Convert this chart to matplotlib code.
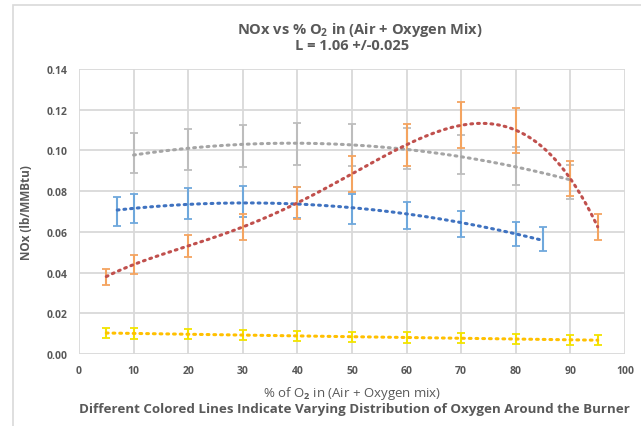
import numpy as np
import matplotlib.pyplot as plt
from matplotlib.patches import Rectangle

# blue series
blue_x = [7, 10, 20, 30, 40, 50, 60, 70, 80, 85]
blue_y = [0.070, 0.0715, 0.074, 0.075, 0.0745, 0.0712, 0.068, 0.064, 0.059, 0.0565]
blue_err = [0.007, 0.007, 0.0075, 0.0075, 0.0075, 0.0073, 0.0068, 0.0064, 0.0059, 0.0059]

# gray series
gray_x = [10, 20, 30, 40, 50, 60, 70, 80, 90]
gray_y = [0.0988, 0.1005, 0.102, 0.103, 0.1027, 0.101, 0.098, 0.0924, 0.0845]
gray_err = [0.0099, 0.0101, 0.0103, 0.0103, 0.0103, 0.0101, 0.0098, 0.0093, 0.0084]

# orange series (red trendline)
orng_x = [5, 10, 20, 30, 40, 50, 60, 70, 80, 90, 95]
orng_y = [0.038, 0.044, 0.053, 0.0624, 0.0743, 0.0885, 0.1027, 0.1125, 0.1098, 0.0862, 0.0624]
orng_err = [0.004, 0.0045, 0.0055, 0.0064, 0.0078, 0.0089, 0.0103, 0.0113, 0.011, 0.0086, 0.0064]

# yellow series
yel_x = [5, 10, 20, 30, 40, 50, 60, 70, 80, 90, 95]
yel_y = [0.0103, 0.0101, 0.0097, 0.0093, 0.0089, 0.0085, 0.0081, 0.0077, 0.0073, 0.0070, 0.0068]
yel_err = [0.0025] * 11

series = [
    (blue_x, blue_y, blue_err, '#6FA8DC', '#3F72C0', 2),
    (gray_x, gray_y, gray_err, '#BDBDBD', '#A5A5A5', 2),
    (orng_x, orng_y, orng_err, '#F4A460', '#C0504D', 4),
    (yel_x, yel_y, yel_err, '#F2E400', '#FFC000', 2),
]

plt.rcParams['font.family'] = ['Open Sans', 'DejaVu Sans']
plt.rcParams['mathtext.fontset'] = 'custom'
plt.rcParams['mathtext.rm'] = 'Open Sans'
plt.rcParams['mathtext.bf'] = 'Open Sans:bold'
txt = '#595959'

fig = plt.figure(figsize=(6.41, 4.27), dpi=100)
ax = fig.add_axes([79/641, 1-355/427, 546/641, 285/427])

for xs, ys, es, ecol, tcol, deg in series:
    ax.errorbar(xs, ys, yerr=es, fmt='none', ecolor=ecol, elinewidth=1.5,
                capsize=3, capthick=1.3, zorder=3)
    c = np.polyfit(xs, ys, deg)
    xx = np.linspace(min(xs), max(xs), 200)
    ax.plot(xx, np.polyval(c, xx), color=tcol, lw=2.2, linestyle=(0, (0.6, 1.6)),
            dash_capstyle='round', zorder=4)

ax.set_xlim(0, 100)
ax.set_ylim(0, 0.14)
ax.set_xticks(np.arange(0, 101, 10))
ax.set_yticks(np.arange(0, 0.141, 0.02))
ax.yaxis.set_major_formatter(plt.FormatStrFormatter('%.2f'))
ax.grid(True, color='#D9D9D9', lw=1.3)
ax.set_axisbelow(True)
for s in ax.spines.values():
    s.set_visible(False)
ax.tick_params(length=0, labelsize=7.5, labelcolor=txt, pad=8)
for lb in ax.get_xticklabels() + ax.get_yticklabels():
    lb.set_fontweight('bold')

ax.set_ylabel('NOx (lb/MMBtu)', fontsize=8.5, fontweight='bold', color=txt, labelpad=10)
fig.text(352/641, 1-394/427, '% of O$_\\mathbf{2}$ in (Air + Oxygen mix)', ha='center', va='center',
         fontsize=9.5, color=txt)
fig.text(354/641, 1-410/427,
         'Different Colored Lines Indicate Varying Distribution of Oxygen Around the Burner',
         ha='center', va='center', fontsize=9.6, fontweight='bold', color=txt)
fig.text(360/641, 1-30/427, 'NOx vs % O$_\\mathbf{2}$ in (Air + Oxygen Mix)', ha='center',
         va='center', fontsize=10.5, fontweight='bold', color=txt)
fig.text(352/641, 1-46/427, 'L = 1.06 +/-0.025', ha='center', va='center',
         fontsize=10.5, fontweight='bold', color=txt)

fig.patches.append(Rectangle((13/641, -0.1), 1.2, 1-6/427 + 0.1, transform=fig.transFigure,
                             fill=False, edgecolor='#D9D9D9', lw=1.2))

fig.savefig('out.png', dpi=100)
